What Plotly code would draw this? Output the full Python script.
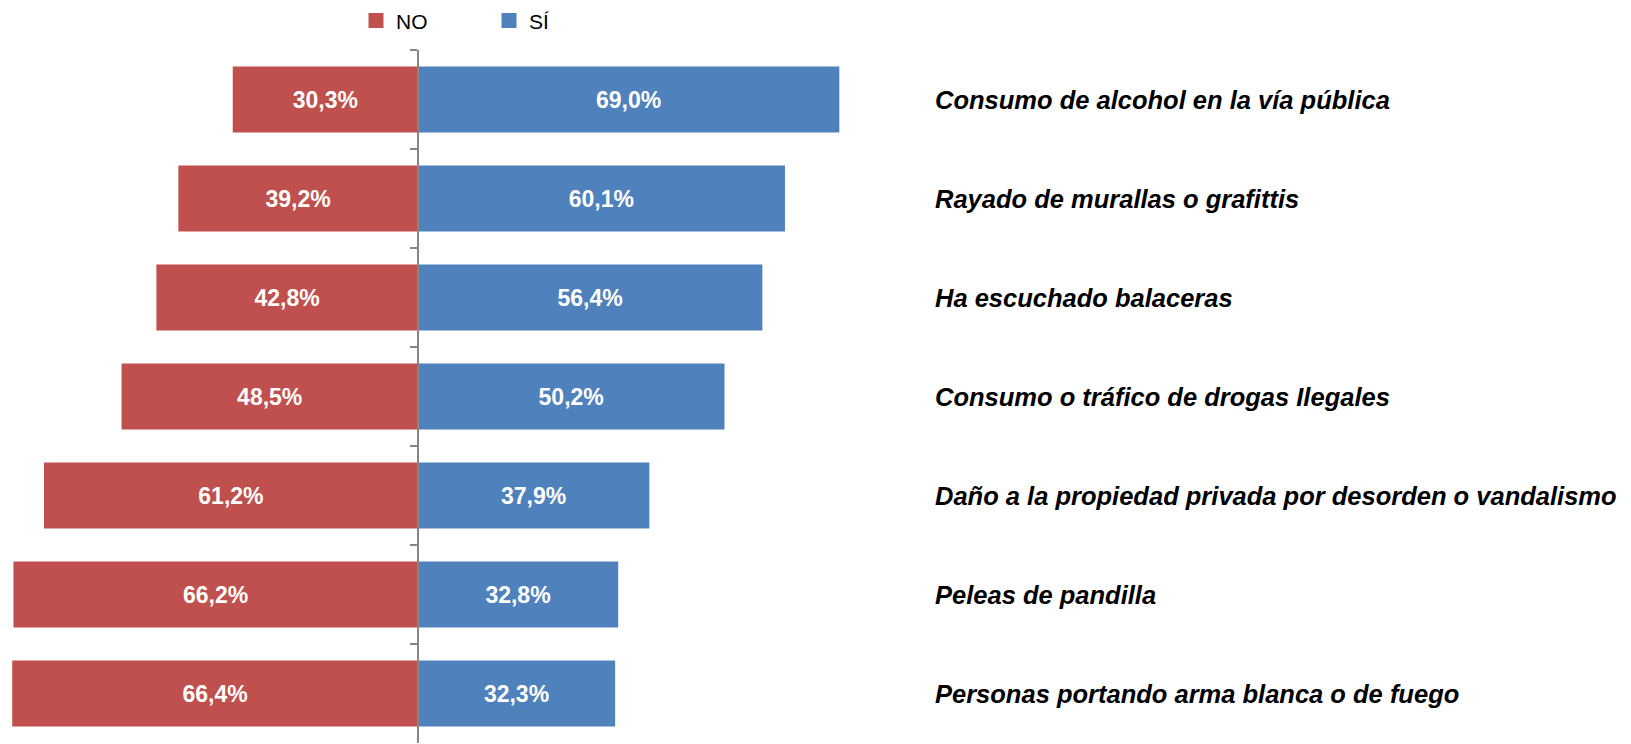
import plotly.graph_objects as go

categories = [
    "Consumo de alcohol en la vía pública",
    "Rayado de murallas o grafittis",
    "Ha escuchado balaceras",
    "Consumo o tráfico de drogas Ilegales",
    "Daño a la propiedad privada por desorden o vandalismo",
    "Peleas de pandilla",
    "Personas portando arma blanca o de fuego",
]
no_values = [30.3, 39.2, 42.8, 48.5, 61.2, 66.2, 66.4]
si_values = [69.0, 60.1, 56.4, 50.2, 37.9, 32.8, 32.3]
series_names = ["NO", "SÍ"]

RED = "#C0504D"
BLUE = "#4F81BD"
AXIS_GRAY = "#868686"

W, H = 1631, 744
X_MIN, X_MAX = -68.4, 198.6
LABEL_X = 84.3  # data position where the category labels start
FONT = "Liberation Sans, Arial, sans-serif"


def pct(v):
    return f"{v:.1f}".replace(".", ",") + "%"


value_font = dict(family=FONT, size=23, color="white", weight="bold")

fig = go.Figure()
fig.add_trace(go.Bar(
    name=series_names[0], y=categories, x=[-v for v in no_values], orientation="h",
    marker=dict(color=RED, line=dict(width=0)),
    text=[pct(v) for v in no_values], textposition="inside",
    insidetextanchor="middle", textfont=value_font, hoverinfo="skip",
    showlegend=False,
))
fig.add_trace(go.Bar(
    name=series_names[1], y=categories, x=si_values, orientation="h",
    marker=dict(color=BLUE, line=dict(width=0)),
    text=[pct(v) for v in si_values], textposition="inside",
    insidetextanchor="middle", textfont=value_font, hoverinfo="skip",
    showlegend=False,
))

# legend entries with larger square swatches
for name, color in zip(series_names, [RED, BLUE]):
    fig.add_trace(go.Scatter(
        x=[None], y=[None], mode="markers", name=name,
        marker=dict(symbol="square", size=15, color=color),
    ))

for cat in categories:
    fig.add_annotation(
        x=LABEL_X, y=cat, xref="x", yref="y", text=f"<b><i>{cat}</i></b>",
        showarrow=False, xanchor="left", yanchor="middle",
        font=dict(family=FONT, size=25.5, color="black"),
    )

fig.update_layout(
    width=W, height=H,
    margin=dict(l=0, r=0, t=50, b=1),
    barmode="relative", bargap=0.333,
    plot_bgcolor="white", paper_bgcolor="white",
    showlegend=True,
    legend=dict(
        orientation="h", x=356 / W, xanchor="left", y=1.042, yanchor="middle",
        font=dict(family=FONT, size=21, color="black"),
        entrywidth=88, entrywidthmode="pixels", traceorder="normal",
    ),
    xaxis=dict(range=[X_MIN, X_MAX], visible=False, showgrid=False, zeroline=False),
    yaxis=dict(
        categoryorder="array", categoryarray=categories, autorange="reversed",
        anchor="free", position=(0 - X_MIN) / (X_MAX - X_MIN),
        showline=True, linecolor=AXIS_GRAY, linewidth=2,
        ticks="outside", tickson="boundaries", ticklen=7, tickcolor=AXIS_GRAY, tickwidth=2,
        showticklabels=False, showgrid=False, zeroline=False,
    ),
)

fig.write_html("out.html")
